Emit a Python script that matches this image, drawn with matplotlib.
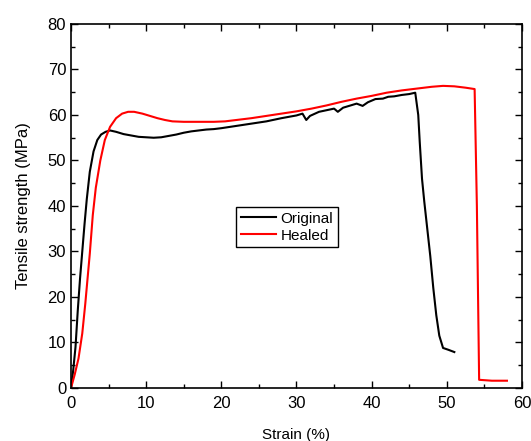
import matplotlib
matplotlib.use("Agg")
import matplotlib.pyplot as plt
from matplotlib.ticker import MultipleLocator

plt.rcParams['font.family'] = ['Liberation Sans', 'DejaVu Sans']

# stress-strain curves (strain %, stress MPa)
orig_strain = [0, 0.3, 0.6, 0.9, 1.2, 1.5, 1.8, 2.1, 2.5, 3.0, 3.5, 4.0, 4.6, 5.2,
               6.0, 7.0, 8.0, 9.0, 10.0, 11.0, 12.0, 13.0, 14.0, 15.0, 16.0, 17.0,
               18.0, 19.0, 20.0, 22.0, 24.0, 26.0, 28.0, 30.0, 30.8, 31.3, 31.8,
               33.0, 35.0, 35.5, 36.2, 38.0, 38.8, 39.5, 40.5, 41.5, 42.2, 43.0,
               44.0, 45.0, 45.8, 46.2, 46.4, 46.7, 47.0, 47.4, 47.8, 48.2, 48.6,
               49.0, 49.5, 50.2, 51.0]
orig_stress = [0, 4, 9, 17, 24, 30, 36, 41.5, 47.5, 52, 54.5, 55.7, 56.3, 56.6,
               56.3, 55.8, 55.5, 55.2, 55.1, 55.0, 55.1, 55.4, 55.7, 56.1, 56.4, 56.6,
               56.8, 56.9, 57.1, 57.6, 58.1, 58.6, 59.3, 59.9, 60.3, 58.9, 59.8,
               60.7, 61.4, 60.7, 61.6, 62.5, 62.0, 62.8, 63.5, 63.6, 64.0, 64.1,
               64.4, 64.6, 64.9, 60, 54, 46, 41, 35, 29, 22, 16,
               11.5, 8.8, 8.4, 7.9]

heal_strain = [0, 0.5, 1.0, 1.5, 1.9, 2.2, 2.5, 2.9, 3.3, 3.9, 4.5, 5.2, 6.0, 6.8,
               7.6, 8.4, 9.5, 10.5, 11.5, 12.5, 13.5, 15.0, 17.0, 19.0, 20.5, 22.0,
               24.0, 26.0, 28.0, 30.0, 32.0, 34.0, 36.0, 38.0, 40.0, 42.0, 44.0,
               46.0, 48.0, 49.5, 51.0, 52.5, 53.7, 54.0, 54.3, 56.0, 58.0]
heal_stress = [0, 3, 6.5, 12, 18.5, 24, 29.5, 38, 44, 50, 54.5, 57.4, 59.3, 60.3,
               60.7, 60.7, 60.3, 59.8, 59.3, 58.9, 58.6, 58.5, 58.5, 58.5, 58.6, 58.9,
               59.3, 59.8, 60.3, 60.8, 61.4, 62.1, 62.9, 63.6, 64.2, 64.9, 65.4,
               65.8, 66.2, 66.4, 66.3, 66.0, 65.7, 40, 1.8, 1.6, 1.6]

fig = plt.figure(figsize=(5.31, 4.41), dpi=100)
ax = fig.add_axes([0.1337, 0.1202, 0.8493, 0.8254])

ax.plot(orig_strain, orig_stress, color='black', lw=1.5, label='Original')
ax.plot(heal_strain, heal_stress, color='red', lw=1.5, label='Healed')

ax.set_xlim(0, 60)
ax.set_ylim(0, 80)
ax.xaxis.set_major_locator(MultipleLocator(10))
ax.xaxis.set_minor_locator(MultipleLocator(5))
ax.yaxis.set_major_locator(MultipleLocator(10))
ax.yaxis.set_minor_locator(MultipleLocator(5))
ax.tick_params(which='both', direction='in', top=True, right=True, labelsize=12)
ax.tick_params(which='major', length=5, width=1)
ax.tick_params(which='minor', length=3, width=1)
ax.tick_params(axis='x', pad=6)
for s in ax.spines.values():
    s.set_linewidth(1.2)

ax.set_xlabel('Strain (%)', fontsize=11, labelpad=12)
ax.set_ylabel('Tensile strength (MPa)', fontsize=12, labelpad=12)

leg = ax.legend(loc='upper left', bbox_to_anchor=(0.366, 0.497), fontsize=11,
                frameon=True, fancybox=False, edgecolor='black', framealpha=1,
                handlelength=2.3, handletextpad=0.3, borderpad=0.3,
                labelspacing=0.2, borderaxespad=0)
leg.get_frame().set_linewidth(1)

fig.savefig('out.png', dpi=100)
